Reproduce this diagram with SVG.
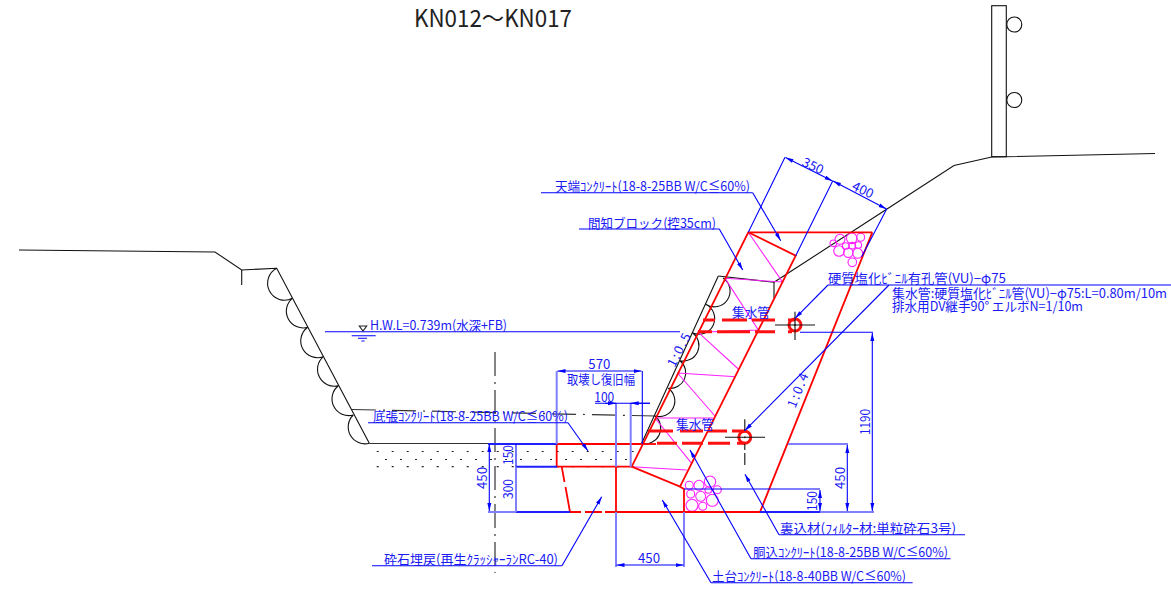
<svg xmlns="http://www.w3.org/2000/svg" width="1171" height="589" viewBox="0 0 1171 589">
<style>
text{font-family:"Noto Sans CJK JP","Liberation Sans",sans-serif;fill:#1a1af5;font-size:13px}
.ctr{text-anchor:middle}
.k{fill:none;stroke:#111;stroke-width:1.1}
.kd{fill:none;stroke:#333;stroke-width:1.2}
.b{fill:none;stroke:#0000ff;stroke-width:1.1}
.l{fill:none;stroke:#8080ff;stroke-width:2}
.bt{fill:none;stroke:#2020ff;stroke-width:2}
.r{fill:none;stroke:#ff0000;stroke-width:1.8}
.rt{fill:none;stroke:#ff1010;stroke-width:3}
.m{fill:none;stroke:#ff20ff;stroke-width:1.1}
.la{marker-end:url(#a)}
.d{marker-start:url(#s);marker-end:url(#a)}
</style>
<defs>
<marker id="a" markerWidth="9" markerHeight="6" refX="8" refY="3" orient="auto" markerUnits="userSpaceOnUse"><path d="M0 1L8 3L0 5Z" fill="#0000ff"/></marker>
<marker id="s" markerWidth="9" markerHeight="6" refX="0" refY="3" orient="auto" markerUnits="userSpaceOnUse"><path d="M8 1L0 3L8 5Z" fill="#0000ff"/></marker>
</defs>

<text id="title" x="414" y="27" style="font-size:24px;fill:#222" textLength="158" lengthAdjust="spacingAndGlyphs">KN012～KN017</text>

<g id="ground">
<path class="k" d="M19 250L215 252L241.7 270L276.7 268.3L369.3 443.3"/>
<path class="k" d="M241.7 270V285"/>
<path class="kd" d="M369.3 443.5H488"/>
<path class="k" d="M276.7 268.3A16.8 16.8 0 0 0 292.3 298.3A16.8 16.8 0 0 0 307.7 327.3A16.8 16.8 0 0 0 323.3 356.7A16.8 16.8 0 0 0 338.3 385.7A16.8 16.8 0 0 0 353.3 415A16.8 16.8 0 0 0 369.3 443.3"/>
<path class="kd" d="M352 409.5L655 416" stroke-dasharray="24 7 2 7"/>
<path class="kd" d="M495 352V573" stroke-dasharray="24 6 2 6" stroke-width="1.4"/>
<path d="M376.7 451.5H640M385 459.5H640M376.7 466.7H640" fill="none" stroke="#222" stroke-width="1.2" stroke-dasharray="2 13"/>
</g>

<g id="road">
<path class="k" d="M718.3 276L641.7 443.3"/>
<path class="k" d="M718.3 276L774 282.3V298M774 282.3L887 209L954 165.5L991.7 157L1155 153.5"/>
<rect class="k" x="991.7" y="5.7" width="14.6" height="151"/>
<circle class="k" cx="1014.3" cy="24.5" r="7.5"/>
<circle class="k" cx="1014.3" cy="100" r="7.5"/>
<path class="k" d="M723 278A15.6 15.6 0 0 1 705.7 304.3A15.6 15.6 0 0 1 692.3 332.7A15.6 15.6 0 0 1 680 360.7A15.6 15.6 0 0 1 668.3 388.3A15.6 15.6 0 0 1 655 416A15.6 15.6 0 0 1 641.7 443.3"/>
</g>

<g id="filter">
<path class="m" d="M748.3 232.3L782.5 282L725 278.3L758.3 330L698.3 332.3L738.3 369M677.5 373L736 376.7M677.5 373L715 416M655 418L713 418M655 418L691.7 463.3M631.7 466.7L686.7 470"/>
<g class="m">
<circle cx="840" cy="239.3" r="5"/><circle cx="851.7" cy="238.3" r="5.3"/><circle cx="860.7" cy="237.3" r="4"/><circle cx="833.3" cy="243.3" r="3.3"/><circle cx="839" cy="251" r="5.3"/><circle cx="845.7" cy="246" r="3.3"/><circle cx="852.3" cy="245.7" r="3.3"/><circle cx="858.3" cy="245" r="3.3"/><circle cx="848.3" cy="252.7" r="4.7"/><circle cx="857.7" cy="253.3" r="5"/><circle cx="852.3" cy="262.3" r="4.3"/>
<circle cx="689.3" cy="485.3" r="4"/><circle cx="699" cy="485.3" r="5"/><circle cx="710" cy="481.7" r="5.7"/><circle cx="717.3" cy="489.7" r="4"/><circle cx="708.3" cy="490" r="3.3"/><circle cx="690.7" cy="494" r="4"/><circle cx="700.7" cy="496.3" r="5"/><circle cx="712.3" cy="500.3" r="6"/><circle cx="692" cy="505.3" r="6"/><circle cx="702.7" cy="506.3" r="4"/>
</g>
</g>

<g id="wall">
<path class="r" d="M872.3 232.3H748.3L631.7 466.7H556.7V444H641.7"/>
<path class="r" d="M748.3 232.3L795.7 255.7L680 486.7L631.7 466.7"/>
<path class="r" d="M872.3 232.3L760 512H684V489L680 486.7"/>
<path class="r" d="M616 466.7V512"/>
<path class="r" d="M641.7 444H656"/>
<path class="r" d="M561.7 466.7L564.5 482M565.5 487L570 512M570 512H581M585 512H602M605 512H684"/>
</g>

<g id="pipes">
<path class="rt" d="M703 320H715M722 320H747M752 320H775M788 320H795"/>
<path class="rt" d="M698 331.7H712M717 331.7H750M755 331.7H775M788 331.7H792"/>
<circle class="rt" cx="795" cy="325" r="6"/>
<circle cx="795" cy="325" r="0.9" fill="#222"/>
<path class="k" d="M775 325H815M795 311.7V340"/>
<path class="rt" d="M648 431H673M680 431H703M708 431H727M732 431H745"/>
<path class="rt" d="M657 443.3H677M682 443.3H703M708 443.3H730M737 443.3H745"/>
<circle class="rt" cx="744.8" cy="437.3" r="6"/>
<circle cx="744.8" cy="437.3" r="0.9" fill="#222"/>
<path class="k" d="M725 437.3H765M744.8 419.3V431M744.8 444V450M744.8 453V465"/>
</g>

<g id="dimensions">
<path class="bt" d="M488 444H557M516 466.7H557M516 512H570M760 512H820"/>
<path class="l" d="M488 512H516M820 512H874M556.7 371V444M630.7 403V466.7M616 403V466.7M616 512V567M684 512V567M516 466.7V512M788 444H848"/>
<path class="b" d="M516 444V466.7M642.3 371V444"/>
<path class="b d" d="M489.3 444V511"/>
<path class="b" d="M684 489H820"/>
<path class="b d" d="M820 490V511"/>
<path class="b d" d="M847.3 445V511"/>
<path class="b d" d="M872.3 333V511"/>
<path class="b" d="M800 332.3H873"/>
<path class="b d" d="M616.5 565H683.5"/>
<path class="b" d="M595 403.3H650"/>
<path class="b" d="M605 403.3H616" style="marker-end:url(#a)"/>
<path class="b" d="M650 403.3H630.7" style="marker-end:url(#a)"/>
<path class="b d" d="M557.5 371H641.5"/>
<path class="b" d="M785 157.3L748.3 232.3M832.7 181L795.7 255.7M886.7 209L861.7 256.7"/>
<path class="b d" d="M785.5 157.5L832.5 181"/>
<path class="b d" d="M833 181L886.5 209"/>
<text class="ctr" x="599.3" y="369" textLength="22" lengthAdjust="spacingAndGlyphs">570</text>
<text class="ctr" x="601" y="384" textLength="68" lengthAdjust="spacingAndGlyphs">取壊し復旧幅</text>
<text class="ctr" x="604.3" y="402" textLength="20" lengthAdjust="spacingAndGlyphs">100</text>
<text class="ctr" x="649" y="563" textLength="22" lengthAdjust="spacingAndGlyphs">450</text>
<text class="ctr" transform="translate(487 478) rotate(-90)" textLength="22" lengthAdjust="spacingAndGlyphs">450</text>
<text class="ctr" transform="translate(513 455) rotate(-90)" textLength="20" lengthAdjust="spacingAndGlyphs">150</text>
<text class="ctr" transform="translate(513 489) rotate(-90)" textLength="20" lengthAdjust="spacingAndGlyphs">300</text>
<text class="ctr" transform="translate(870 422) rotate(-90)" textLength="26" lengthAdjust="spacingAndGlyphs">1190</text>
<text class="ctr" transform="translate(845 478) rotate(-90)" textLength="22" lengthAdjust="spacingAndGlyphs">450</text>
<text class="ctr" transform="translate(817 501) rotate(-90)" textLength="20" lengthAdjust="spacingAndGlyphs">150</text>
<text class="ctr" transform="translate(811 170) rotate(26)" textLength="22" lengthAdjust="spacingAndGlyphs">350</text>
<text class="ctr" transform="translate(861 194) rotate(26)" textLength="22" lengthAdjust="spacingAndGlyphs">400</text>
<text class="ctr" transform="translate(802 392) rotate(-68)" textLength="36" lengthAdjust="spacing">1:0.4</text>
<text class="ctr" transform="translate(683 352) rotate(-63)" textLength="36" lengthAdjust="spacing">1:0.5</text>
</g>

<g id="hwl">
<path class="b" d="M325 331.7H680"/>
<path class="k" d="M359.3 326H366.7L363 331Z" style="stroke:#222"/>
<path class="b" d="M351.7 335.7H375.7M358 338.3H367M361.5 341H364.5"/>
<text x="370" y="330" textLength="137" lengthAdjust="spacingAndGlyphs">H.W.L=0.739m(水深+FB)</text>
</g>

<g id="label-tenba">
<path class="b" d="M541 192.7H752.7"/><path class="b la" d="M752.7 192.7L780.7 240.7"/>
<text x="555" y="191" textLength="195" lengthAdjust="spacingAndGlyphs">天端ｺﾝｸﾘｰﾄ(18-8-25BB W/C≦60%)</text>
</g>
<g id="label-kenchi">
<path class="b" d="M579 229H719.3"/><path class="b la" d="M719.3 229L742.7 270"/>
<text x="588" y="227.5" textLength="128" lengthAdjust="spacingAndGlyphs">間知ブロック(控35cm)</text>
</g>
<g id="label-vu">
<path class="b" d="M828 285H1171"/><path class="b la" d="M828 285L795 318.3"/>
<text x="828" y="283" textLength="178" lengthAdjust="spacingAndGlyphs">硬質塩化ﾋﾞﾆﾙ有孔管(VU)−φ75</text>
</g>
<g id="label-drain">
<path class="b la" d="M889 285L744.8 430.7"/>
<text x="892" y="298" textLength="275" lengthAdjust="spacingAndGlyphs">集水管:硬質塩化ﾋﾞﾆﾙ管(VU)−φ75:L=0.80m/10m</text>
<text x="892" y="311" textLength="191" lengthAdjust="spacingAndGlyphs">排水用DV継手90° エルボN=1/10m</text>
</g>
<g id="label-pipes">
<text class="ctr" x="751" y="317" textLength="38" lengthAdjust="spacingAndGlyphs">集水管</text>
<text class="ctr" x="695" y="429" textLength="38" lengthAdjust="spacingAndGlyphs">集水管</text>
</g>
<g id="label-sokobari">
<path class="b" d="M368 422.7H568"/><path class="b la" d="M568 422.7L588 451"/>
<text x="373" y="420.5" textLength="195" lengthAdjust="spacingAndGlyphs">底張ｺﾝｸﾘｰﾄ(18-8-25BB W/C≦60%)</text>
</g>
<g id="label-saiseki">
<path class="b" d="M372 565.7H562"/><path class="b la" d="M562 565.7L601.7 496.7"/>
<text x="384" y="564" textLength="174" lengthAdjust="spacingAndGlyphs">砕石埋戻(再生ｸﾗｯｼｬｰﾗﾝRC-40)</text>
</g>
<g id="label-dodai">
<path class="b" d="M711 582.7H912.6"/><path class="b la" d="M711 582.7L662.3 500"/>
<text x="712" y="581" textLength="194" lengthAdjust="spacingAndGlyphs">土台ｺﾝｸﾘｰﾄ(18-8-40BB W/C≦60%)</text>
</g>
<g id="label-dogome">
<path class="b" d="M751 558.7H950.5"/><path class="b la" d="M751 558.7L690 450"/>
<text x="753" y="557" textLength="195" lengthAdjust="spacingAndGlyphs">胴込ｺﾝｸﾘｰﾄ(18-8-25BB W/C≦60%)</text>
</g>
<g id="label-uragome">
<path class="b" d="M779 534.7H965"/><path class="b la" d="M779 534.7L745 474.3"/>
<text x="780" y="533" textLength="176" lengthAdjust="spacingAndGlyphs">裏込材(ﾌｨﾙﾀｰ材:単粒砕石3号)</text>
</g>
</svg>
